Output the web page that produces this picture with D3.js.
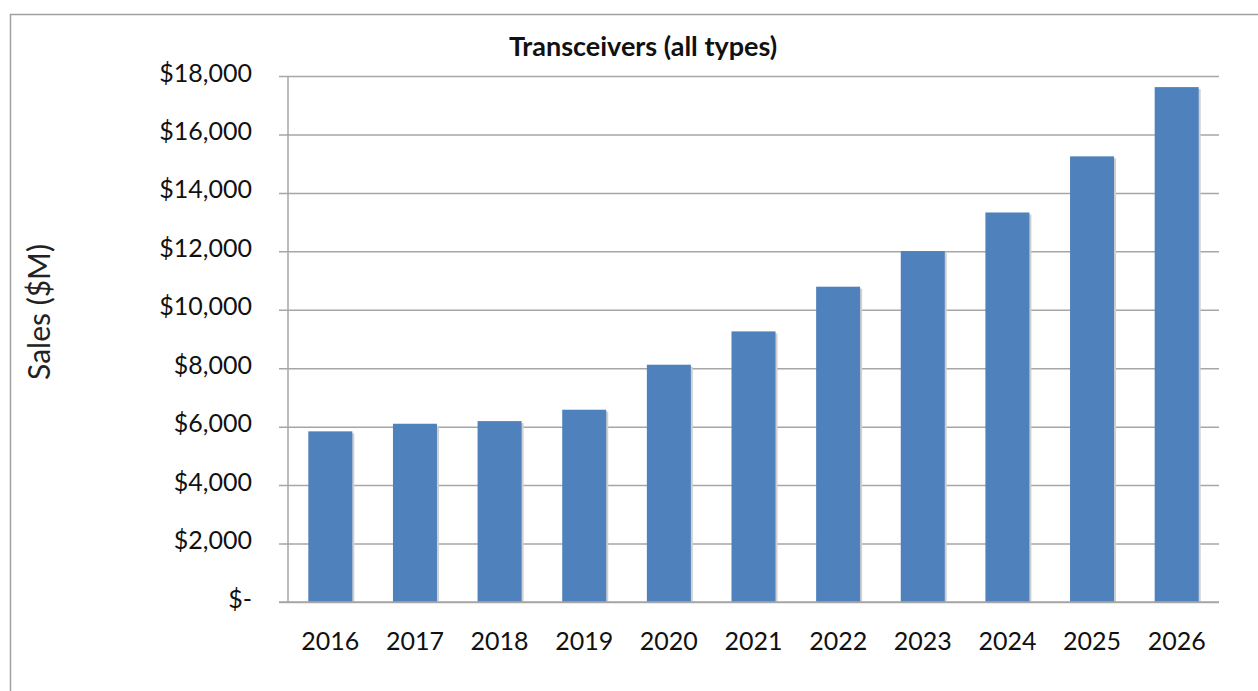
<!DOCTYPE html>
<html>
<head>
<meta charset="utf-8">
<script src="https://cdn.jsdelivr.net/npm/d3@7"></script>
<style>
  body { margin: 0; background: #fff; }
  svg text { font-family: Lato, "Open Sans", sans-serif; fill: #111; }
</style>
</head>
<body>
<div id="chart"></div>
<script>
// data
var years = ["2016", "2017", "2018", "2019", "2020", "2021", "2022", "2023", "2024", "2025", "2026"];
var sales = [5840, 6100, 6190, 6580, 8120, 9260, 10790, 12010, 13330, 15250, 17620];
var yTicks = [0, 2000, 4000, 6000, 8000, 10000, 12000, 14000, 16000, 18000];

var W = 1258, H = 691;
var margin = { top: 76, right: 39, bottom: 89, left: 288 },
  width = W - margin.left - margin.right,
  height = H - margin.top - margin.bottom;

var svg = d3.select("#chart").append("svg")
  .attr("width", W)
  .attr("height", H);

// outer frame (runs off the right and bottom edges)
svg.append("rect")
  .attr("x", 10.5).attr("y", 14.5)
  .attr("width", 1400).attr("height", 800)
  .attr("fill", "none")
  .attr("stroke", "#a0a0a0")
  .attr("stroke-width", 1.5);

var g = svg.append("g")
  .attr("transform", "translate(" + margin.left + "," + margin.top + ")");

var x = d3.scaleBand().domain(years).range([0, width]).paddingInner(0.48).paddingOuter(0.24);
var y = d3.scaleLinear().domain([0, 18000]).range([height, 0]);

var fmt = function (d) { return d === 0 ? "$-" : "$" + d3.format(",")(d); };

// gridlines + left axis
var yAxis = g.append("g")
  .call(d3.axisLeft(y).tickValues(yTicks).tickSize(-width).tickFormat(fmt).tickPadding(36));
yAxis.select(".domain").remove();
yAxis.selectAll(".tick line")
  .attr("x1", -9)
  .attr("stroke", "#a6a6a6")
  .attr("stroke-width", 1.5);
yAxis.selectAll(".tick text")
  .attr("font-size", 25)
  .attr("dy", "0.2em");

// vertical axis line
g.append("line")
  .attr("x1", 0).attr("x2", 0)
  .attr("y1", 0).attr("y2", height)
  .attr("stroke", "#a6a6a6")
  .attr("stroke-width", 1.5);

// bar shadow
g.append("g").selectAll("rect")
  .data(sales)
  .enter().append("rect")
  .attr("x", function (d, i) { return x(years[i]) + 2; })
  .attr("y", function (d) { return y(d) + 2; })
  .attr("width", x.bandwidth())
  .attr("height", function (d) { return height - y(d) - 2; })
  .attr("fill", "#d0d0d0");

// bars
g.append("g").selectAll("rect")
  .data(sales)
  .enter().append("rect")
  .attr("x", function (d, i) { return x(years[i]); })
  .attr("y", function (d) { return y(d); })
  .attr("width", x.bandwidth())
  .attr("height", function (d) { return height - y(d); })
  .attr("fill", "#4f81bd");

// baseline
g.append("line")
  .attr("x1", -9).attr("x2", width)
  .attr("y1", height).attr("y2", height)
  .attr("stroke", "#a6a6a6")
  .attr("stroke-width", 1.5);

// x axis labels
var xAxis = g.append("g")
  .attr("transform", "translate(0," + height + ")")
  .call(d3.axisBottom(x).tickSize(0).tickPadding(30));
xAxis.select(".domain").remove();
xAxis.selectAll(".tick text").attr("font-size", 25);

// title
svg.append("text")
  .attr("x", 643)
  .attr("y", 56)
  .attr("text-anchor", "middle")
  .attr("font-size", 27)
  .attr("font-weight", "bold")
  .text("Transceivers (all types)");

// y axis label
svg.append("text")
  .attr("transform", "translate(50,312) rotate(-90)")
  .attr("text-anchor", "middle")
  .attr("font-size", 30)
  .style("fill", "#222")
  .text("Sales ($M)");
</script>
</body>
</html>
